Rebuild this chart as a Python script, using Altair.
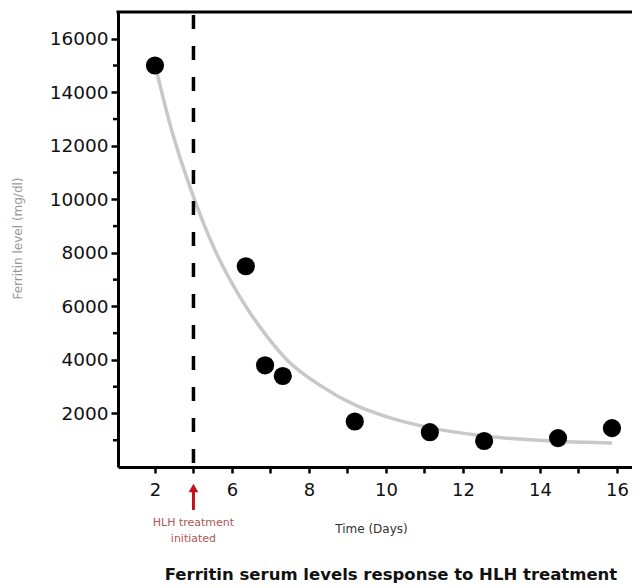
import altair as alt
import pandas as pd

# Measured points (x position on the axis, ferritin value)
days = [4.0, 6.36, 6.86, 7.32, 9.19, 11.14, 12.55, 14.47, 15.87]
ferritin = [15000, 7500, 3800, 3400, 1700, 1300, 970, 1080, 1450]

# Grey trend curve
fit_days = [4.04, 4.43, 4.95, 5.56, 6.21, 6.90, 7.43, 8.29, 9.22, 10.03, 11.12, 12.55, 14.44, 15.87]
fit_ferritin = [14800, 12600, 10300, 8100, 6350, 4900, 4000, 3050, 2300, 1870, 1470, 1160, 960, 900]

# Axis tick labels
x_tick_values = [4, 6, 8, 10, 12, 14, 16]
x_tick_labels = ["2", "6", "8", "10", "12", "14", "16"]
y_tick_values = [2000, 4000, 6000, 8000, 10000, 12000, 14000, 16000]
y_minor_values = [1000, 3000, 5000, 7000, 9000, 11000, 13000, 15000]
treatment_day = [5]

FONT = "DejaVu Sans"
W, H = 514, 455

points = pd.DataFrame({"day": days, "ferritin": ferritin})
curve = pd.DataFrame({"day": fit_days, "ferritin": fit_ferritin})
treat = pd.DataFrame({"day": treatment_day})
minor = pd.DataFrame({"ferritin": y_minor_values})

label_expr = " : ".join(
    f"datum.value == {v} ? '{l}'" for v, l in zip(x_tick_values, x_tick_labels)
) + " : ''"

x_scale = alt.Scale(domain=[3.04, 3.04 + W / 38.5], nice=False, zero=False)
y_scale = alt.Scale(domain=[0, 17000], nice=False)

x_axis = alt.Axis(
    values=list(range(4, 17)),
    labelExpr=label_expr,
    labelOverlap=False,
    grid=False,
    domainColor="black",
    domainWidth=3,
    tickColor="black",
    tickWidth=2.5,
    tickSize=6,
    labelFont=FONT,
    labelFontSize=18,
    labelColor="#111",
    labelPadding=8,
    labelBaseline="top",
    title="Time (Days)",
    titleFont=FONT,
    titleFontSize=12,
    titleFontWeight="normal",
    titleColor="#333",
    titleX=253,
    titleY=61,
    titleAlign="center",
    titleBaseline="middle",
)

y_axis = alt.Axis(
    values=y_tick_values,
    format="d",
    labelOverlap=False,
    grid=False,
    domainColor="black",
    domainWidth=3,
    tickColor="black",
    tickWidth=2.5,
    tickSize=7,
    labelFont=FONT,
    labelFontSize=18.5,
    labelColor="#111",
    labelPadding=3,
    title="Ferritin level (mg/dl)",
    titleFont=FONT,
    titleFontSize=12,
    titleFontWeight="normal",
    titleColor="#999",
    titleAngle=270,
    titleX=-101,
    titleY=226,
    titleAlign="center",
    titleBaseline="middle",
)

X = alt.X("day:Q", scale=x_scale, axis=x_axis)
Y = alt.Y("ferritin:Q", scale=y_scale, axis=y_axis)

line = alt.Chart(curve).mark_line(
    color="#c8c8c8", strokeWidth=3.5, interpolate="monotone"
).encode(x=X, y=Y)

dots = alt.Chart(points).mark_circle(size=330, color="black", opacity=1).encode(x=X, y=Y)

minor_ticks = alt.Chart(minor).mark_rule(color="black", strokeWidth=2.5).encode(
    y=Y, x=alt.value(-5), x2=alt.value(0)
)

dashed = alt.Chart(treat).mark_rule(
    color="black", strokeWidth=3.5, strokeDash=[14, 17]
).encode(x=X, y=alt.value(3), y2=alt.value(455))

top_border = alt.Chart(treat).mark_rule(color="black", strokeWidth=3).encode(
    x=alt.value(-1.5), x2=alt.value(W), y=alt.value(0)
)

arrow_shaft = alt.Chart(treat).mark_rule(color="#c0141c", strokeWidth=3).encode(
    x=X, y=alt.value(478), y2=alt.value(498)
)
arrow_head = alt.Chart(treat).mark_point(
    shape="triangle-up", filled=True, color="#c0141c", size=95, opacity=1
).encode(x=X, y=alt.value(476))

note1 = alt.Chart(treat).mark_text(
    text="HLH treatment", font=FONT, fontSize=11, color="#b05555", baseline="middle"
).encode(x=X, y=alt.value(511))
note2 = alt.Chart(treat).mark_text(
    text="initiated", font=FONT, fontSize=11, color="#b05555", baseline="middle"
).encode(x=X, y=alt.value(527))

title = alt.Chart(treat).mark_text(
    text="Ferritin serum levels response to HLH treatment",
    font=FONT, fontSize=16.5, fontWeight="bold", color="#111", baseline="middle",
).encode(x=alt.value(273), y=alt.value(563))

chart = (
    alt.layer(line, minor_ticks, dashed, top_border, dots, arrow_shaft, arrow_head, note1, note2, title)
    .properties(
        width=W,
        height=H,
        autosize=alt.AutoSizeParams(type="none"),
        padding={"left": 110, "top": 4, "right": 0, "bottom": 125},
        background="white",
    )
    .configure_view(stroke=None)
)

chart.save("out.html", embed_options={"renderer": "svg", "actions": False})
